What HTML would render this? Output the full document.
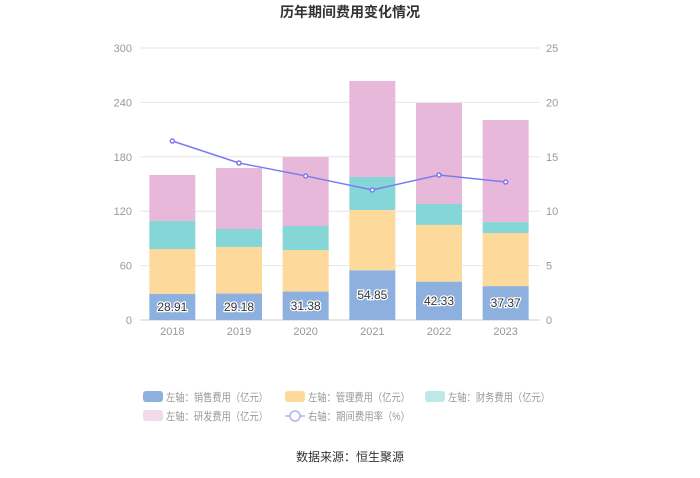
<!DOCTYPE html>
<html><head><meta charset="utf-8"><style>
body{margin:0;background:#fff;font-family:"Liberation Sans","Noto Sans CJK SC",sans-serif;}
svg text{font-family:"Liberation Sans","Noto Sans CJK SC",sans-serif;}
</style></head><body>
<svg id="c" width="700" height="473">
<text x="350" y="17" text-anchor="middle" font-size="14" font-weight="bold" fill="#333">历年期间费用变化情况</text>
<g id="grid"></g><g id="bars"></g><g id="line"></g><g id="axes"></g>
<g id="legend"></g>
<text x="350" y="461" text-anchor="middle" font-size="12" fill="#333">数据来源：恒生聚源</text>
</svg>
<script>
const categories=["2018","2019","2020","2021","2022","2023"];
const sales=[28.91,29.18,31.38,54.85,42.33,37.37];
const mgmt=[49.4,51.3,45.8,66.5,62.5,58.6];
const fin=[30.9,19.9,26.5,36.4,23.1,12.0];
const rd=[50.8,67.2,76.1,105.9,111.4,112.6];
const rate=[16.45,14.43,13.24,11.95,13.33,12.68];
const leftTicks=[0,60,120,180,240,300];
const rightTicks=[0,5,10,15,20,25];
const NS="http://www.w3.org/2000/svg";
const x0=140,x1=540,yTop=48,yBot=320;
const yL=v=>yBot-v/300*(yBot-yTop);
const yR=v=>yBot-v/25*(yBot-yTop);
const band=(x1-x0)/categories.length;
const xC=i=>x0+band*(i+0.5)-1;
function mk(t,a,p){const e=document.createElementNS(NS,t);for(const k in a)e.setAttribute(k,a[k]);p.appendChild(e);return e;}
const G=document.getElementById('grid'),B=document.getElementById('bars'),L=document.getElementById('line'),A=document.getElementById('axes');
leftTicks.forEach((t,i)=>{
 const gl=mk('line',{x1:x0,x2:x1,y1:yL(t),y2:yL(t),stroke:i?'#e6e6e6':'#ccc'},G);
 
 
 const tx=mk('text',{x:132,y:yL(t)+4,'text-anchor':'end','font-size':11,fill:'#999'},A);tx.textContent=t;
 
 
});
rightTicks.forEach(t=>{
 const tx=mk('text',{x:546,y:yR(t)+4,'font-size':11,fill:'#999'},A);tx.textContent=t;
 
 
});
const series=[[sales,'#8eb0de','sales'],[mgmt,'#fdd99b','mgmt'],[fin,'#85d7d7','fin'],[rd,'#e8b8da','rd']];
const bw=46;
categories.forEach((c,i)=>{
 let base=0;
 series.forEach(([arr,col,nm])=>{
  const r=mk('rect',{x:xC(i)-bw/2,y:yL(base+arr[i]),width:bw,height:yL(base)-yL(base+arr[i]),fill:col},B);
  
  
  base+=arr[i];
 });
 const lb=mk('text',{x:xC(i),y:yL(sales[i]/2)+4,'text-anchor':'middle','font-size':12,fill:'#333',stroke:'#fff','stroke-width':2.5,'paint-order':'stroke'},B);lb.textContent=sales[i];
 
 
 const tx=mk('text',{x:xC(i),y:335,'text-anchor':'middle','font-size':11,fill:'#999'},A);tx.textContent=c;
 
 
});
const pl=mk('polyline',{points:rate.map((v,i)=>xC(i)+','+yR(v)).join(' '),fill:'none',stroke:'#7b7bf0','stroke-width':1.5},L);


rate.forEach((v,i)=>{const c=mk('circle',{cx:xC(i),cy:yR(v),r:2,fill:'#fff',stroke:'#7b7bf0','stroke-width':1.5},L);
 
 });
const Lg=document.getElementById('legend');
const items=[[143,397,'#8eb0de','左轴：销售费用（亿元）'],[285,397,'#fdd99b','左轴：管理费用（亿元）'],[425,397,'#bfe9e9','左轴：财务费用（亿元）'],[143,416,'#f3d9ec','左轴：研发费用（亿元）']];
items.forEach(([x,y,c,t])=>{
 const g=mk('g',{},Lg);
 
 
 mk('rect',{x:x,y:y-6,width:20,height:11,rx:3,fill:c},g);
 const tx=mk('text',{x:x+23,y:y+4,'font-size':11,fill:'#999',textLength:102,lengthAdjust:'spacingAndGlyphs'},g);tx.textContent=t;
});
const g=mk('g',{},Lg);


mk('line',{x1:285,x2:305,y1:416,y2:416,stroke:'#b0b0f5','stroke-width':1.5},g);
mk('circle',{cx:295,cy:416,r:5,fill:'#fff',stroke:'#b0b0f5','stroke-width':1.5},g);
const t2=mk('text',{x:308,y:420,'font-size':11,fill:'#999',textLength:102,lengthAdjust:'spacingAndGlyphs'},g);t2.textContent='右轴：期间费用率（%）';
</script>
</body></html>
